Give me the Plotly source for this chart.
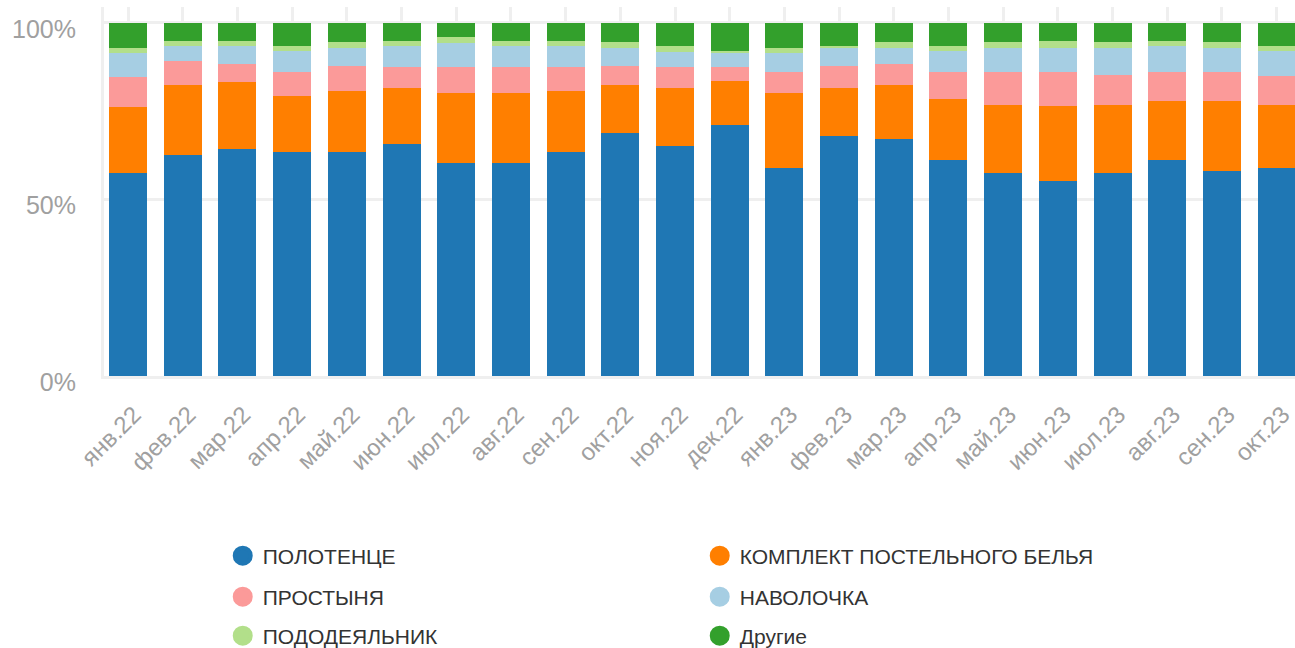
import plotly.graph_objects as go

months = ["янв.22", "фев.22", "мар.22", "апр.22", "май.22", "июн.22", "июл.22", "авг.22",
          "сен.22", "окт.22", "ноя.22", "дек.22", "янв.23", "фев.23", "мар.23", "апр.23",
          "май.23", "июн.23", "июл.23", "авг.23", "сен.23", "окт.23"]

polotence = [57.4, 62.5, 64.2, 63.4, 63.4, 65.6, 60.3, 60.3, 63.4, 68.7, 65.1, 71.0,
             58.8, 67.9, 67.0, 61.1, 57.4, 55.2, 57.4, 61.1, 58.0, 58.8]
komplekt = [18.7, 19.8, 19.0, 15.8, 17.2, 15.9, 19.8, 19.8, 17.2, 13.6, 16.4, 12.7,
            21.3, 13.6, 15.3, 17.5, 19.5, 21.2, 19.5, 16.7, 19.8, 18.1]
prostynya = [8.5, 6.8, 5.1, 6.8, 7.1, 5.9, 7.3, 7.3, 6.8, 5.4, 5.9, 3.7,
             5.9, 6.2, 6.0, 7.4, 9.1, 9.6, 8.5, 8.2, 8.2, 8.2]
navolochka = [6.9, 4.5, 5.3, 6.0, 5.1, 6.2, 6.8, 6.2, 6.2, 5.1, 4.5, 4.0,
              5.5, 5.1, 4.5, 6.0, 6.8, 6.8, 7.4, 7.6, 6.8, 6.9]
pododeyalnik = [1.3, 1.4, 1.4, 1.6, 1.7, 1.4, 1.7, 1.4, 1.4, 1.7, 1.7, 0.8,
                1.3, 0.8, 1.7, 1.6, 1.7, 2.2, 1.7, 1.4, 1.7, 1.6]
drugie = [7.2, 5.0, 5.0, 6.4, 5.5, 5.0, 4.1, 5.0, 5.0, 5.5, 6.4, 7.8,
          7.2, 6.4, 5.5, 6.4, 5.5, 5.0, 5.5, 5.0, 5.5, 6.4]

series_names = ["ПОЛОТЕНЦЕ", "КОМПЛЕКТ ПОСТЕЛЬНОГО БЕЛЬЯ", "ПРОСТЫНЯ",
                "НАВОЛОЧКА", "ПОДОДЕЯЛЬНИК", "Другие"]
series_values = [polotence, komplekt, prostynya, navolochka, pododeyalnik, drugie]
colors = ["#1f77b4", "#ff7f00", "#fb9a99", "#a6cee3", "#b2df8a", "#33a02c"]
y_tickvals = [0, 50, 100]
y_ticktext = ["0%", "50%", "100%"]

fig = go.Figure()
for name, vals, col in zip(series_names, series_values, colors):
    fig.add_trace(go.Bar(x=months, y=vals, name=name, marker=dict(color=col, line=dict(width=0)),
                         showlegend=False, hoverinfo="skip"))

legend_ids = ["legend", "legend", "legend2", "legend2", "legend3", "legend3"]
for name, col, lid in zip(series_names, colors, legend_ids):
    fig.add_trace(go.Scatter(x=[None], y=[None], mode="markers", name=name, legend=lid,
                             marker=dict(symbol="circle", size=16, color=col,
                                         line=dict(color=col, width=4)),
                             showlegend=True))

grid = "#efefef"
legend_common = dict(orientation="h", xref="container", yref="container",
                     x=0.172, xanchor="left", yanchor="middle", traceorder="normal",
                     entrywidth=432, entrywidthmode="pixels",
                     font=dict(family="Liberation Sans, Arial, sans-serif", size=21, color="#333333"),
                     bgcolor="rgba(0,0,0,0)", itemclick=False, itemdoubleclick=False)

fig.update_layout(
    width=1295, height=648,
    margin=dict(l=104, r=0, t=7, b=272),
    barmode="stack", bargap=0.305,
    plot_bgcolor="white", paper_bgcolor="white",
    font=dict(family="Liberation Sans, Arial, sans-serif"),
    legend=dict(**legend_common, y=1 - 556 / 648),
    legend2=dict(**legend_common, y=1 - 597 / 648),
    legend3=dict(**legend_common, y=1 - 636 / 648),
    xaxis=dict(type="category", range=[-0.439, 21.335], showgrid=True, gridcolor=grid, gridwidth=3,
               showline=True, linecolor=grid, linewidth=3, zeroline=False, ticks="",
               tickangle=-45, ticklabelstandoff=12, ticklabelshift=6,
               tickfont=dict(size=24, color="#a0a0a0")),
    yaxis=dict(range=[0, 104.53], tickvals=y_tickvals, ticktext=y_ticktext,
               showgrid=True, gridcolor=grid, gridwidth=3, zeroline=False,
               showline=True, linecolor=grid, linewidth=3, ticks="",
               ticklabelstandoff=20, ticklabelshift=6,
               tickfont=dict(size=25, color="#a0a0a0")),
)

fig.write_html("out.html", config={"displayModeBar": False},
               post_script="document.body.style.margin='0';document.body.style.overflow='hidden';")
